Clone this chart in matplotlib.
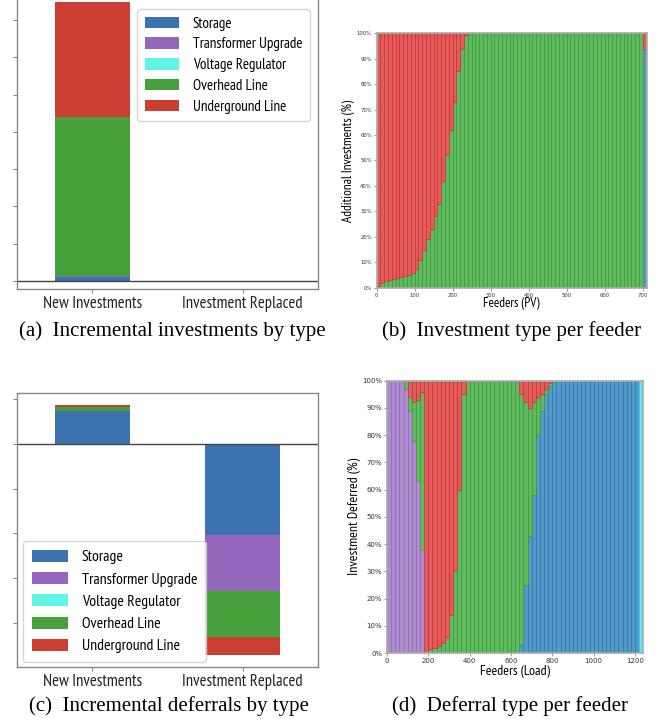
import numpy as np
import matplotlib
matplotlib.use("Agg")
import matplotlib.pyplot as plt
from matplotlib.colors import to_rgba
from matplotlib.ticker import PercentFormatter

cond = ['PT Sans Narrow', 'Fira Sans Condensed', 'Roboto Condensed', 'Liberation Sans Narrow',
        'Roboto', 'DejaVu Sans']
plt.rcParams['font.family'] = cond

# ---- data ----
types = ['Storage', 'Transformer Upgrade', 'Voltage Regulator', 'Overhead Line', 'Underground Line']
groups = ['New Investments', 'Investment Replaced']

# (a) incremental investments by type
a_storage = [0.10, 0.0]
a_transformer = [0.04, 0.0]
a_voltage = [0.005, -0.03]
a_overhead = [4.26, 0.0]
a_underground = [3.08, 0.0]

# (c) incremental deferrals by type
c_storage = [0.73, -2.03]
c_transformer = [0.0, -1.25]
c_voltage = [0.0, -0.005]
c_overhead = [0.10, -1.03]
c_underground = [0.05, -0.40]

# (b) share per feeder (PV), feeders grouped by 10, percent
b_storage = [0, 0, 0, 0, 0, 0, 0, 0, 0, 0,
             0, 0, 0, 0, 0, 0, 0, 0, 0, 0,
             0, 0, 0, 0, 0, 0, 0, 0, 0, 0,
             0, 0, 0, 0, 0, 0, 0, 0, 0, 0,
             0, 0, 0, 0, 0, 0, 0, 0, 0, 0,
             0, 0, 0, 0, 0, 0, 0, 0, 0, 0,
             0, 0, 0, 0, 0, 0, 0, 0, 0, 0,
             94]
b_overhead = [0.8, 2, 2.6, 3.1, 3.5, 3.9, 4.2, 4.6, 5.0, 5.6,
              7.5, 11, 15, 19, 23, 28, 33, 42, 52, 62,
              73, 85, 94, 99.5, 100, 100, 100, 100, 100, 100,
              100, 100, 100, 100, 100, 100, 100, 100, 100, 100,
              100, 100, 100, 100, 100, 100, 100, 100, 100, 100,
              100, 100, 100, 100, 100, 100, 100, 100, 100, 100,
              100, 100, 100, 100, 100, 100, 100, 100, 100, 100,
              0]
b_underground = [99.2, 98, 97.4, 96.9, 96.5, 96.1, 95.8, 95.4, 95.0, 94.4,
                 92.5, 89, 85, 81, 77, 72, 67, 58, 48, 38,
                 27, 15, 6, 0.5, 0, 0, 0, 0, 0, 0,
                 0, 0, 0, 0, 0, 0, 0, 0, 0, 0,
                 0, 0, 0, 0, 0, 0, 0, 0, 0, 0,
                 0, 0, 0, 0, 0, 0, 0, 0, 0, 0,
                 0, 0, 0, 0, 0, 0, 0, 0, 0, 0,
                 6]
b_none = [0] * len(b_storage)

# (d) share per feeder (Load), feeders grouped by 20, percent
d_storage = [0, 0, 0, 0, 0, 0, 0, 0, 0, 0,
             0, 0, 0, 0, 0, 0, 0, 0, 0, 0,
             0, 0, 0, 0, 0, 0, 0, 0, 0, 0,
             0, 0, 3, 25, 43, 58, 80, 89, 95, 98,
             100, 100, 100, 100, 100, 100, 100, 100, 100, 100,
             100, 100, 100, 100, 100, 100, 100, 100, 100, 100,
             100, 0]
d_transformer = [100, 100, 100, 100, 97, 89, 78, 63, 38, 0,
                 0, 0, 0, 0, 0, 0, 0, 0, 0, 0,
                 0, 0, 0, 0, 0, 0, 0, 0, 0, 0,
                 0, 0, 0, 0, 0, 0, 0, 0, 0, 0,
                 0, 0, 0, 0, 0, 0, 0, 0, 0, 0,
                 0, 0, 0, 0, 0, 0, 0, 0, 0, 0,
                 0, 0]
d_voltage = [0, 0, 0, 0, 0, 0, 0, 0, 0, 0,
             0, 0, 0, 0, 0, 0, 0, 0, 0, 0,
             0, 0, 0, 0, 0, 0, 0, 0, 0, 0,
             0, 0, 0, 0, 0, 0, 0, 0, 0, 0,
             0, 0, 0, 0, 0, 0, 0, 0, 0, 0,
             0, 0, 0, 0, 0, 0, 0, 0, 0, 0,
             0, 100]
d_overhead = [0, 0, 0, 0, 3, 5, 14, 30, 58, 0.5,
              1.5, 2, 2.6, 3.5, 6, 14, 30, 60, 95, 100,
              100, 100, 100, 100, 100, 100, 100, 100, 100, 100,
              100, 100, 92, 67, 47, 34, 14, 6, 2, 1,
              0, 0, 0, 0, 0, 0, 0, 0, 0, 0,
              0, 0, 0, 0, 0, 0, 0, 0, 0, 0,
              0, 0]
d_underground = [0, 0, 0, 0, 0, 6, 8, 7, 4, 99.5,
                 98.5, 98, 97.4, 96.5, 94, 86, 70, 40, 5, 0,
                 0, 0, 0, 0, 0, 0, 0, 0, 0, 0,
                 0, 0, 5, 8, 10, 8, 6, 5, 3, 1,
                 0, 0, 0, 0, 0, 0, 0, 0, 0, 0,
                 0, 0, 0, 0, 0, 0, 0, 0, 0, 0,
                 0, 0]

bar_colors = ['#3a73b0', '#9467bd', '#62f5e6', '#48a03c', '#cb3e31']
feeder_colors = ['#1f77b4', '#9467bd', '#1ee3f0', '#2ca02c', '#d62728']


def type_panel(ax, series, ylo, yhi, yticks):
    x = np.arange(len(groups))
    pos = np.zeros(len(groups))
    neg = np.zeros(len(groups))
    for vals, col, lab in zip(series, bar_colors, types):
        vals = np.array(vals, dtype=float)
        base = np.where(vals >= 0, pos, neg)
        ax.bar(x, vals, width=0.5, bottom=base, color=col, label=lab)
        pos += np.clip(vals, 0, None)
        neg += np.clip(vals, None, 0)
    ax.axhline(0, color='#444444', lw=1)
    ax.set_xlim(-0.5, 1.5)
    ax.set_ylim(ylo, yhi)
    ax.set_yticks(yticks)
    ax.set_yticklabels([])
    ax.set_xticks(x)
    ax.set_xticklabels(groups, fontsize=12, family=cond, color='#222222')
    ax.tick_params(length=3, color='#888888', pad=2)
    for s in ax.spines.values():
        s.set_color('#888888')
        s.set_linewidth(1)


def feeder_panel(ax, series, width, xmax, xstep, tsize):
    n = len(series[0])
    x = np.arange(n) * width
    bottom = np.zeros(n)
    for vals, col in zip(series, feeder_colors):
        vals = np.array(vals, dtype=float)
        m = vals > 0
        ax.bar(x[m], vals[m], width=width, bottom=bottom[m], align='edge',
               facecolor=to_rgba(col, 0.75), edgecolor=col, linewidth=0.4)
        bottom += vals
    ax.set_xlim(0, xmax)
    ax.set_ylim(0, 100)
    ax.set_xticks(np.arange(0, xmax, xstep))
    ax.set_yticks(np.arange(0, 101, 10))
    ax.yaxis.set_major_formatter(PercentFormatter(xmax=100, decimals=0))
    ax.tick_params(length=2, width=0.6, color='#888888', labelsize=tsize,
                   labelcolor='#333333', pad=1.5)
    for lab in ax.get_xticklabels() + ax.get_yticklabels():
        lab.set_family('DejaVu Sans')
    for s in ax.spines.values():
        s.set_color('#aaaaaa')
        s.set_linewidth(1.2)


fig = plt.figure(figsize=(6.7, 7.25), dpi=100)

ax_a = fig.add_axes([0.0254, 0.6014, 0.4493, 0.4014])
type_panel(ax_a, [a_storage, a_transformer, a_voltage, a_overhead, a_underground],
           -0.214, 7.59, np.arange(0, 8))
ax_a.legend(loc='upper right', bbox_to_anchor=(0.973, 0.962), borderaxespad=0,
            handlelength=2.3, handleheight=0.8, handletextpad=0.9,
            labelspacing=0.45, borderpad=0.5, prop={'family': cond, 'size': 10.8})

ax_c = fig.add_axes([0.0254, 0.08, 0.4493, 0.3779])
type_panel(ax_c, [c_storage, c_transformer, c_voltage, c_overhead, c_underground],
           -4.99, 1.14, np.arange(-4, 2))
ax_c.legend(loc='lower left', bbox_to_anchor=(0.02, 0.018), borderaxespad=0,
            handlelength=2.3, handleheight=0.8, handletextpad=0.9,
            labelspacing=0.5, borderpad=0.55, prop={'family': cond, 'size': 11.3})

ax_b = fig.add_axes([0.5622, 0.6032, 0.403, 0.3509])
feeder_panel(ax_b, [b_storage, b_none, b_none, b_overhead, b_underground],
             10, 711, 100, 3.8)
ax_b.set_ylabel('Additional Investments (%)', fontsize=9.5, family=cond)
ax_b.set_xlabel('Feeders (PV)', fontsize=9.5, family=cond)
ax_b.yaxis.set_label_coords(-0.08, 0.5)
ax_b.xaxis.set_label_coords(0.5, -0.036)

ax_d = fig.add_axes([0.5776, 0.0993, 0.3825, 0.3756])
feeder_panel(ax_d, [d_storage, d_transformer, d_voltage, d_overhead, d_underground],
             20, 1240, 200, 5)
ax_d.set_ylabel('Investment Deferred (%)', fontsize=10, family=cond)
ax_d.set_xlabel('Feeders (Load)', fontsize=10, family=cond)
ax_d.yaxis.set_label_coords(-0.101, 0.5)
ax_d.xaxis.set_label_coords(0.5, -0.044)

serif = ['Liberation Serif', 'DejaVu Serif']
fig.text(172 / 670, 1 - 331 / 725, '(a)  Incremental investments by type', ha='center', va='center',
         fontsize=15, family=serif)
fig.text(512 / 670, 1 - 331 / 725, '(b)  Investment type per feeder', ha='center', va='center',
         fontsize=15, family=serif)
fig.text(169 / 670, 1 - 706 / 725, '(c)  Incremental deferrals by type', ha='center', va='center',
         fontsize=15, family=serif)
fig.text(510 / 670, 1 - 706 / 725, '(d)  Deferral type per feeder', ha='center', va='center',
         fontsize=15, family=serif)

fig.savefig('out.png', dpi=100)
